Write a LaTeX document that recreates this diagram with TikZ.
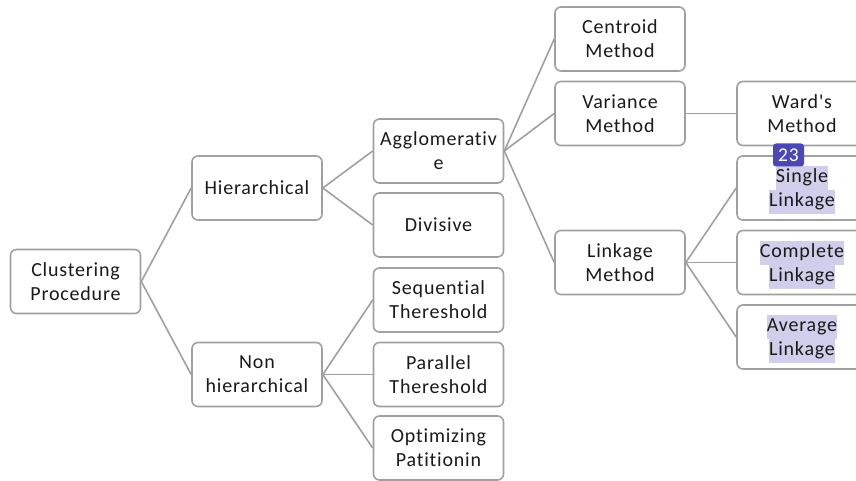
\documentclass[tikz,border=0pt]{standalone}
\usepackage{fontspec}
\setmainfont{Carlito}[Ligatures={TeXOff,CommonOff},LetterSpace=4]
\definecolor{edgec}{HTML}{A0A0A0}
\definecolor{boxc}{HTML}{A0A0A0}
\definecolor{hlc}{HTML}{D0CEEA}
\definecolor{badgec}{HTML}{4B47B4}
\definecolor{txtc}{HTML}{1A1A1A}
\newcommand{\hlt}[1]{{\setlength{\fboxsep}{0pt}\colorbox{hlc}{\strut #1}}}
\begin{document}
\begin{tikzpicture}[x=1pt,y=-1pt,
  box/.style={draw=boxc,line width=1.6pt,rounded corners=6pt,fill=white,
    minimum width=130pt,minimum height=64pt,align=center,inner sep=0pt,
    text=txtc,font=\fontsize{20}{24}\selectfont},
  hltext/.style={align=center,inner sep=0pt,text=txtc,font=\fontsize{20}{24}\selectfont},
  conn/.style={draw=edgec,line width=1.6pt},
  badge/.style={fill=badgec,rounded corners=3pt,text=white,minimum width=31pt,
    minimum height=23pt,inner sep=0pt,font=\fontsize{19.5}{20}\selectfont}]
\useasboundingbox (0,0) rectangle (856,481);
\clip (0,0) rectangle (856,481);
\node[box] (cp) at (75.5,281.5) {Clustering\\Procedure};
\node[box] (hi) at (257,188) {Hierarchical};
\node[box] (nh) at (257,374.5) {Non\\hierarchical};
\node[box] (ag) at (438.5,151) {Agglomerativ\\e};
\node[box] (dv) at (438.5,225) {Divisive};
\node[box] (sq) at (438.5,300) {Sequential\\Thereshold};
\node[box] (pa) at (438.5,374.5) {Parallel\\Thereshold};
\node[box] (op) at (438.5,448) {Optimizing\\Patitionin};
\node[box] (ce) at (620,39) {Centroid\\Method};
\node[box] (va) at (620,113.5) {Variance\\Method};
\node[box] (li) at (620,262.5) {Linkage\\Method};
\node[box] (wa) at (802,113.5) {Ward's\\Method};
\node[box] (si) at (802,188) {};
\node[box] (co) at (802,262.5) {};
\node[box] (av) at (802,337) {};
\node[hltext] (sit) at ([yshift=-2pt]si.center) {\hlt{Single}\\\hlt{Linkage}};
\node[hltext] (cot) at ([yshift=-2pt]co.center) {\hlt{Complete}\\\hlt{Linkage}};
\node[hltext] (avt) at ([yshift=-2pt]av.center) {\hlt{Average}\\\hlt{Linkage}};
\node[badge] (bd) at (788.5,155) {23};
\foreach \a/\b in {cp/hi,cp/nh,hi/ag,hi/dv,nh/sq,nh/pa,nh/op,ag/ce,ag/va,ag/li,va/wa,li/si,li/co,li/av}
  \draw[conn] (\a.east) -- (\b.west);
\end{tikzpicture}
\end{document}
